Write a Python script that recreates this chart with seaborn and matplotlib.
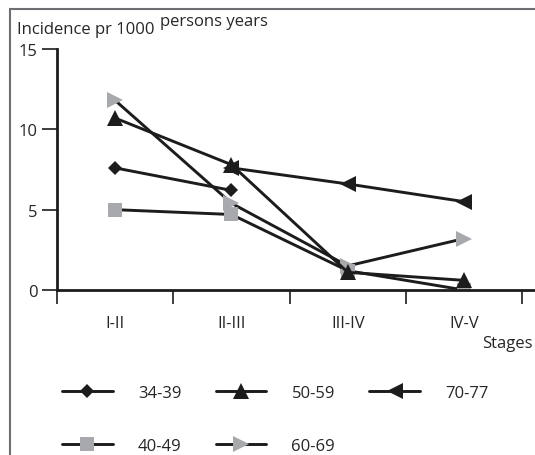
import numpy as np
import pandas as pd
import seaborn as sns
import matplotlib
matplotlib.use("Agg")
import matplotlib.pyplot as plt
from matplotlib.patches import Rectangle

sns.set_style("white")
plt.rcParams['font.family'] = ['Open Sans', 'DejaVu Sans']

stages = ["I-II", "II-III", "III-IV", "IV-V"]
groups = ["34-39", "40-49", "50-59", "60-69", "70-77"]
v_34_39 = [7.6, 6.2, np.nan, np.nan]
v_40_49 = [5.0, 4.7, 1.2, 0.0]
v_50_59 = [10.7, 7.8, 1.1, 0.6]
v_60_69 = [11.8, 5.4, 1.5, 3.2]
v_70_77 = [np.nan, 7.6, 6.6, 5.5]
y_ticks = [0, 5, 10, 15]

BLACK = "#1c1c1c"
GRAY = "#a7a9ac"
FS = 12
styles = {
    "34-39": dict(marker="D", markersize=7.2, mfc=BLACK),
    "40-49": dict(marker="s", markersize=10.5, mfc=GRAY),
    "50-59": dict(marker="^", markersize=11, mfc=BLACK),
    "60-69": dict(marker=">", markersize=11, mfc=GRAY),
    "70-77": dict(marker="<", markersize=11, mfc=BLACK),
}
values = {"34-39": v_34_39, "40-49": v_40_49, "50-59": v_50_59,
          "60-69": v_60_69, "70-77": v_70_77}

fig = plt.figure(figsize=(5.35, 4.56), dpi=100)
ax = fig.add_axes([57/535, 1-291/456, 1-57/535, (291-50)/456])

draw_order = ["60-69", "40-49", "34-39", "70-77", "50-59"]
handles = {}
for g in draw_order:
    df = pd.DataFrame({"x": np.arange(len(stages)), "y": values[g]}).dropna()
    st = styles[g]
    sns.lineplot(data=df, x="x", y="y", ax=ax, color=BLACK, linewidth=2.1,
                 marker=st["marker"], markersize=st["markersize"],
                 markerfacecolor=st["mfc"], markeredgecolor=st["mfc"],
                 markeredgewidth=0, label=g, legend=False)
    handles[g] = ax.lines[-1]

ax.set_xlim(-0.5, 3.61)
ax.set_ylim(0, 15)
ax.set_xlabel("")
ax.set_ylabel("")
for s in ["top", "right"]:
    ax.spines[s].set_visible(False)
for s in ["left", "bottom"]:
    ax.spines[s].set_color(BLACK)
    ax.spines[s].set_linewidth(2.0)

ax.set_yticks(y_ticks)
ax.set_yticklabels([str(t) for t in y_ticks])
ax.tick_params(axis="y", length=11, width=1.2, color=BLACK, pad=3,
               labelsize=FS, direction="out", left=True)
ax.set_xticks([-0.5, 0.5, 1.5, 2.5, 3.5])
ax.set_xticklabels([])
ax.tick_params(axis="x", which="major", length=10, width=1.2, color=BLACK,
               direction="out", bottom=True)
ax.set_xticks(range(len(stages)), minor=True)
ax.set_xticklabels(stages, minor=True)
ax.tick_params(axis="x", which="minor", length=0, pad=18, labelsize=FS)

fig.text(17/535, 1-30/456, "Incidence pr 1000", fontsize=FS, va="center", ha="left")
fig.text(160/535, 1-22/456, "persons years", fontsize=FS, va="center", ha="left")
fig.text(482/535, 1-344/456, "Stages", fontsize=FS, va="center", ha="left")

fig.patches.append(Rectangle((10/535, -0.2), 1.5, 1.2 - 9.5/456, transform=fig.transFigure,
                             fill=False, edgecolor="#6d6e71", linewidth=1.5))

leg_handles = [handles[g] for g in groups]
fig.legend(leg_handles, groups, loc="upper left", bbox_to_anchor=(62/535, 1-386/456),
           ncol=3, frameon=False, borderpad=0, handlelength=3.05, handletextpad=1.5,
           columnspacing=2.05, labelspacing=2.2, fontsize=FS, borderaxespad=0)

fig.savefig("out.png", dpi=100)
